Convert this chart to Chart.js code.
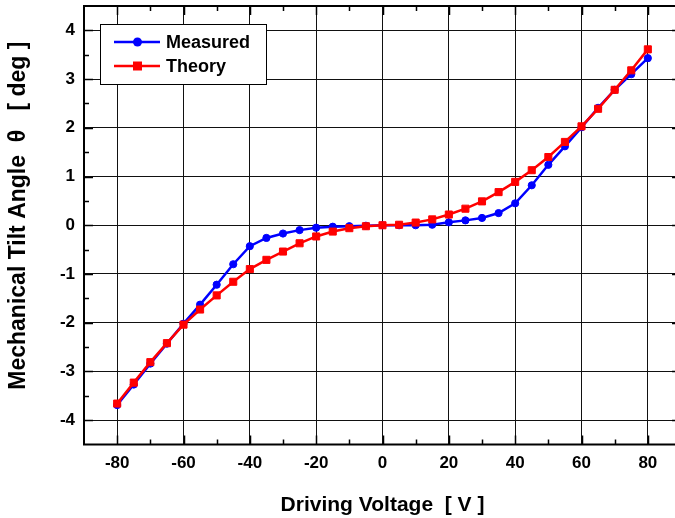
<!DOCTYPE html>
<html>
<head>
<meta charset="utf-8">
<script src="https://cdn.jsdelivr.net/npm/chart.js@4.4.1/dist/chart.umd.min.js"></script>
<style>
  html, body { margin: 0; padding: 0; overflow: hidden; background: #fff; }
  canvas { display: block; }
</style>
</head>
<body>
<canvas id="c" width="687" height="518"></canvas>
<script>
// Driving voltage steps [V]
const voltage = [-80, -75, -70, -65, -60, -55, -50, -45, -40, -35, -30, -25, -20, -15, -10, -5,
                 0, 5, 10, 15, 20, 25, 30, 35, 40, 45, 50, 55, 60, 65, 70, 75, 80];

// Mechanical tilt angle [deg]
const measured = [-3.69, -3.27, -2.84, -2.43, -2.02, -1.63, -1.22, -0.80, -0.43, -0.26, -0.17, -0.10, -0.05, -0.03, -0.02, -0.01,
                  0.00, 0.00, 0.00, 0.01, 0.06, 0.10, 0.15, 0.25, 0.45, 0.82, 1.24, 1.62, 2.01, 2.41, 2.78, 3.10, 3.43];
const theory   = [-3.66, -3.23, -2.81, -2.42, -2.04, -1.73, -1.44, -1.16, -0.90, -0.71, -0.54, -0.37, -0.23, -0.13, -0.06, -0.02,
                  0.00, 0.01, 0.055, 0.12, 0.22, 0.34, 0.49, 0.68, 0.89, 1.13, 1.40, 1.71, 2.03, 2.39, 2.78, 3.18, 3.61];

const xTickValues = [-80, -60, -40, -20, 0, 20, 40, 60, 80];
const yTickValues = [-4, -3, -2, -1, 0, 1, 2, 3, 4];

const FONT = 'Arial, "Liberation Sans", Helvetica, sans-serif';

const toPoints = ys => voltage.map((v, i) => ({ x: v, y: ys[i] }));

// Frame with inward major/minor ticks on all four sides
const frameTicks = {
  id: 'frameTicks',
  afterDatasetsDraw(chart) {
    const { ctx, chartArea: a, scales: { x, y } } = chart;
    ctx.save();
    ctx.strokeStyle = '#000';
    ctx.lineWidth = 1.5;
    ctx.beginPath();
    for (let v = -80; v <= 80; v += 10) {
      const px = Math.round(x.getPixelForValue(v)) + 0.5;
      const len = (v % 20 === 0) ? 9 : 5;
      ctx.moveTo(px, a.bottom); ctx.lineTo(px, a.bottom - len);
      ctx.moveTo(px, a.top); ctx.lineTo(px, a.top + len);
    }
    for (let v = -4; v <= 4; v += 0.5) {
      const py = Math.round(y.getPixelForValue(v)) + 0.5;
      const len = Number.isInteger(v) ? 9 : 5;
      ctx.moveTo(a.left, py); ctx.lineTo(a.left + len, py);
      ctx.moveTo(a.right, py); ctx.lineTo(a.right - len, py);
    }
    ctx.stroke();
    ctx.lineWidth = 2;
    ctx.strokeRect(a.left, a.top, a.right - a.left, a.bottom - a.top);
    ctx.restore();
  }
};

// Boxed legend in the upper-left corner of the plot
const boxLegend = {
  id: 'boxLegend',
  afterDraw(chart) {
    const { ctx } = chart;
    const bx = 100.5, by = 24.5, bw = 166, bh = 60;
    ctx.save();
    ctx.fillStyle = '#fff';
    ctx.fillRect(bx, by, bw, bh);
    ctx.strokeStyle = '#000';
    ctx.lineWidth = 1;
    ctx.strokeRect(bx, by, bw, bh);
    const rows = [42, 66];
    chart.data.datasets.forEach((ds, i) => {
      const ry = rows[i];
      ctx.strokeStyle = ds.borderColor;
      ctx.lineWidth = 2.5;
      ctx.beginPath();
      ctx.moveTo(114, ry); ctx.lineTo(160, ry);
      ctx.stroke();
      ctx.fillStyle = ds.backgroundColor;
      ctx.beginPath();
      if (ds.pointStyle === 'rect') {
        ctx.rect(137.5 - 4.5, ry - 4.5, 9, 9);
      } else {
        ctx.arc(137.5, ry, 4.5, 0, Math.PI * 2);
      }
      ctx.fill();
      ctx.fillStyle = '#000';
      ctx.font = 'bold 18px ' + FONT;
      ctx.textBaseline = 'middle';
      ctx.textAlign = 'left';
      ctx.fillText(ds.label, 166, ry + 1);
    });
    ctx.restore();
  }
};

new Chart(document.getElementById('c'), {
  type: 'scatter',
  data: {
    datasets: [
      {
        label: 'Measured',
        data: toPoints(measured),
        showLine: true,
        borderColor: '#0000ff',
        backgroundColor: '#0000ff',
        borderWidth: 2.5,
        pointStyle: 'circle',
        pointRadius: 3.6,
        pointBorderWidth: 1,
        tension: 0,
        order: 2
      },
      {
        label: 'Theory',
        data: toPoints(theory),
        showLine: true,
        borderColor: '#ff0000',
        backgroundColor: '#ff0000',
        borderWidth: 2.5,
        pointStyle: 'rect',
        pointRadius: 5,
        pointBorderWidth: 1,
        tension: 0,
        order: 1
      }
    ]
  },
  options: {
    responsive: false,
    animation: false,
    layout: { padding: { left: 0, right: 0, top: 5, bottom: 0 } },
    plugins: { legend: { display: false }, tooltip: { enabled: false } },
    scales: {
      x: {
        type: 'linear',
        min: -90, max: 90,
        afterBuildTicks: s => { s.ticks = xTickValues.map(v => ({ value: v })); },
        afterFit: s => { s.height = 73.5; s.paddingLeft = 0; s.paddingRight = 0; },
        grid: { color: '#111', lineWidth: 1, drawTicks: false },
        border: { display: false },
        ticks: { color: '#000', padding: 9, maxRotation: 0, autoSkip: false,
                 font: { family: FONT, size: 17, weight: 'bold' } },
        title: { display: true, text: 'Driving Voltage  [ V ]', color: '#000',
                 font: { family: FONT, size: 21, weight: 'bold' }, padding: { top: 0, bottom: 0 } }
      },
      y: {
        type: 'linear',
        min: -4.5, max: 4.5,
        afterBuildTicks: s => { s.ticks = yTickValues.map(v => ({ value: v })); },
        afterFit: s => { s.width = 84; s.paddingTop = 0; s.paddingBottom = 0; },
        grid: { color: '#111', lineWidth: 1, drawTicks: false },
        border: { display: false },
        ticks: { color: '#000', padding: 9, autoSkip: false,
                 font: { family: FONT, size: 17, weight: 'bold' } },
        title: { display: true, text: '   Mechanical Tilt Angle  θ   [ deg ]', color: '#000',
                 font: { family: FONT, size: 23, weight: 'bold' }, padding: { top: 5, bottom: 0 } }
      }
    }
  },
  plugins: [frameTicks, boxLegend]
});
</script>
</body>
</html>
